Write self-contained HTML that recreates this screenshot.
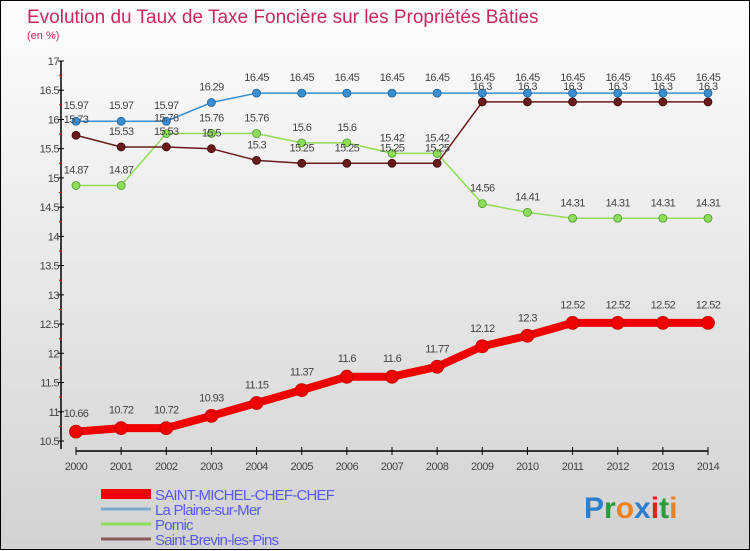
<!DOCTYPE html>
<html><head><meta charset="utf-8"><style>
html,body{margin:0;padding:0}
body{width:750px;height:550px;overflow:hidden;font-family:"Liberation Sans",sans-serif}
#wrap{position:relative;width:748px;height:548px;border:1px solid #000;background:linear-gradient(#fdfdfd,#d2d2d2)}
svg{position:absolute;left:0;top:0}
</style></head><body>
<div id="wrap">
<svg id="c" width="750" height="550">
<text x="26" y="22" font-size="19" fill="#c8285a">Evolution du Taux de Taxe Foncière sur les Propriétés Bâties</text>
<text x="26" y="38" font-size="11" fill="#c8285a">(en %)</text>
<text x="583" y="517" font-size="30" font-weight="bold"><tspan fill="#2a7fd0">P</tspan><tspan fill="#2a9a3a">r</tspan><tspan fill="#f08020">o</tspan><tspan fill="#2a7fd0">x</tspan><tspan fill="#e02020">i</tspan><tspan fill="#2a9a3a">t</tspan><tspan fill="#f08020">i</tspan></text>
</svg>
</div>
<script>
const years=["2000","2001","2002","2003","2004","2005","2006","2007","2008","2009","2010","2011","2012","2013","2014"];
const smcc=[10.66,10.72,10.72,10.93,11.15,11.37,11.6,11.6,11.77,12.12,12.3,12.52,12.52,12.52,12.52];
const plaine=[15.97,15.97,15.97,16.29,16.45,16.45,16.45,16.45,16.45,16.45,16.45,16.45,16.45,16.45,16.45];
const pornic=[14.87,14.87,15.76,15.76,15.76,15.6,15.6,15.42,15.42,14.56,14.41,14.31,14.31,14.31,14.31];
const brevin=[15.73,15.53,15.53,15.5,15.3,15.25,15.25,15.25,15.25,16.3,16.3,16.3,16.3,16.3,16.3];
const yTicks=["10.5","11","11.5","12","12.5","13","13.5","14","14.5","15","15.5","16","16.5","17"];
const seriesNames=["SAINT-MICHEL-CHEF-CHEF","La Plaine-sur-Mer","Pornic","Saint-Brevin-les-Pins"];
const NS="http://www.w3.org/2000/svg";
const svg=document.getElementById('c');
const X=i=>75+i*(632/14);
const Y=v=>440-(v-10.5)*(380/6.5);
function mk(t,a,p){const e=document.createElementNS(NS,t);for(const k in a)e.setAttribute(k,a[k]);(p||svg).appendChild(e);return e;}
// axes
let ax=mk('line',{x1:60,y1:Y(17),x2:60,y2:448,stroke:'#000','stroke-width':1.5});


let xa=mk('line',{x1:75,y1:450,x2:707,y2:450,stroke:'#000','stroke-width':1.5});


yTicks.forEach((t,i)=>{const v=parseFloat(t);const y=Y(v);
 mk('line',{x1:57,y1:y,x2:63,y2:y,stroke:'#000'});
 if(i<yTicks.length-1) mk('line',{x1:58,y1:Y(v+0.25),x2:61,y2:Y(v+0.25),stroke:'#e00'});
 const tx=mk('text',{x:58,y:y+4,'font-size':11,fill:'#444','text-anchor':'end','letter-spacing':'-0.5'});
 tx.textContent=t;
 
 
});
years.forEach((t,i)=>{const x=X(i);
 mk('line',{x1:x,y1:446,x2:x,y2:454,stroke:'#000'});
 const tx=mk('text',{x:x,y:469,'font-size':11,fill:'#444','text-anchor':'middle','letter-spacing':'-0.5'});
 tx.textContent=t;
 
 
});
function series(arr,color,w,r,name,stroke){
 const g=mk('g',{});
 
 
 mk('polyline',{points:arr.map((v,i)=>X(i)+','+Y(v)).join(' '),fill:'none',stroke:color,'stroke-width':w},g);
 arr.forEach((v,i)=>{
  const c=mk('circle',{cx:X(i),cy:Y(v),r:r,fill:color,stroke:stroke,'stroke-width':0.8},g);
  
  
  const t=mk('text',{x:X(i),y:Y(v)-(r+8),'font-size':11,fill:'#444','text-anchor':'middle','letter-spacing':'-0.6'},g);
  t.textContent=String(v);
  
  
 });
}
series(plaine,'#3a8fd0',1.5,4,'series-la-plaine-sur-mer','#1a5f9a');
series(pornic,'#8fdc5a',1.5,4,'series-pornic','#4a9a2a');
series(brevin,'#6a1a1a',1.5,4,'series-saint-brevin','#3a0a0a');
series(smcc,'#f00000',8,6.5,'series-saint-michel-chef-chef','#c00000');
// legend
const lc=['#f00000','#7aaad0','#8fdc5a','#8a5a5a'];const lw=[10,3,3,3];
seriesNames.forEach((n,i)=>{const y=493+i*15;
 const g=mk('g',{});
 
 
 mk('line',{x1:100,y1:y+(i==0?0:0),x2:150,y2:y,stroke:lc[i],'stroke-width':lw[i]},g);
 const t=mk('text',{x:154,y:y+6,'font-size':15,fill:'#5a5aee','letter-spacing':'-0.8'},g);
 t.textContent=n;
});
</script>
</body></html>
